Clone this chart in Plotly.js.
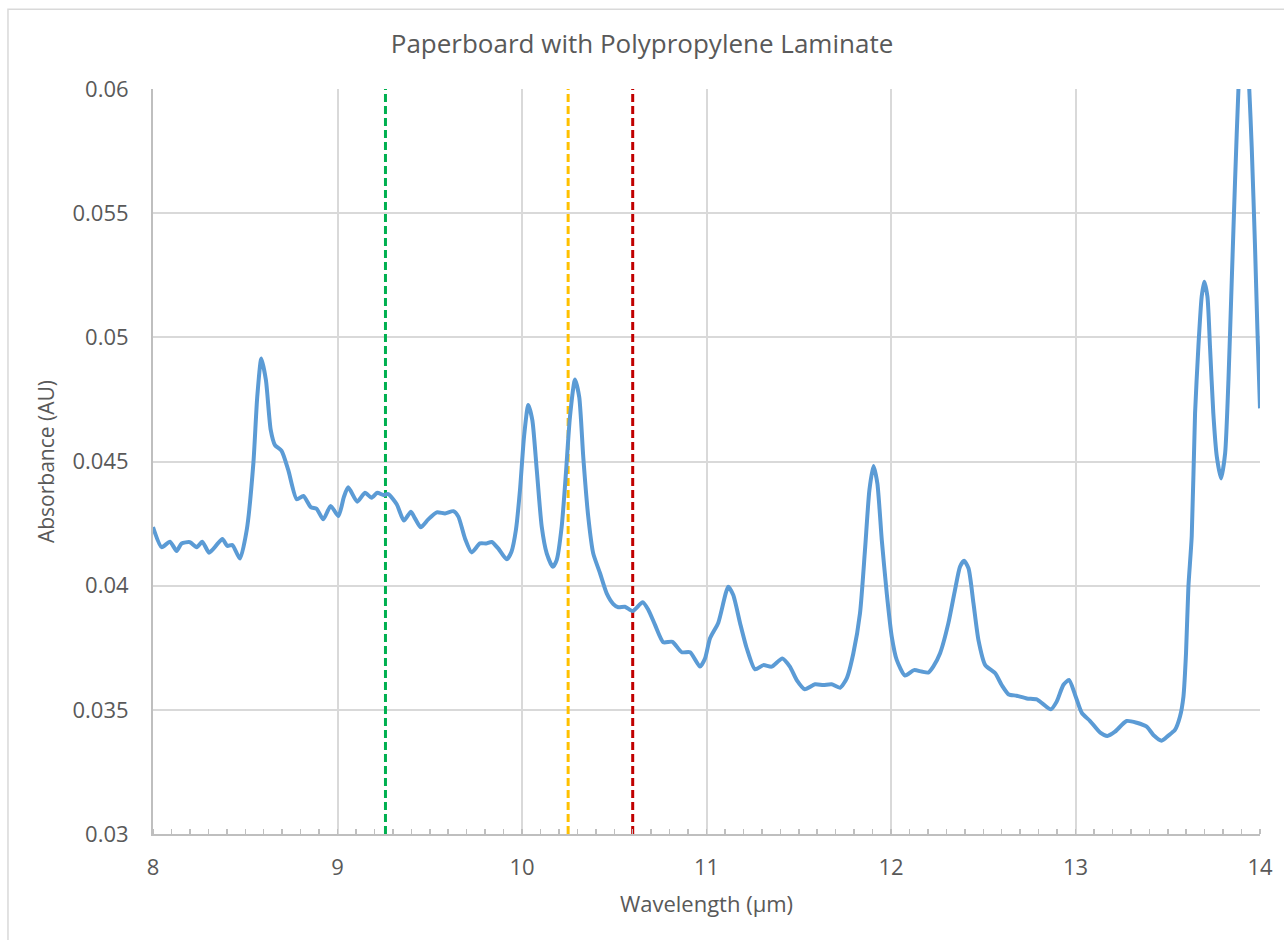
<!DOCTYPE html>
<html>
<head>
<meta charset="utf-8">
<script src="https://cdn.plot.ly/plotly-3.0.1.min.js"></script>
<style>
  html, body { margin: 0; padding: 0; background: #fff; }
  #chart { width: 1284px; height: 940px; }
</style>
</head>
<body>
<div id="chart"></div>
<script>
// Wavelength (µm)
const wavelength = [
  8.000, 8.047, 8.092, 8.128, 8.155, 8.200, 8.237, 8.267, 8.304, 8.345,
  8.376, 8.403, 8.430, 8.471, 8.508, 8.544, 8.565, 8.587, 8.612, 8.638,
  8.661, 8.697, 8.733, 8.779, 8.815, 8.855, 8.887, 8.923, 8.963, 9.005,
  9.035, 9.058, 9.107, 9.149, 9.185, 9.216, 9.248, 9.275, 9.321, 9.360,
  9.398, 9.420, 9.451, 9.492, 9.538, 9.583, 9.628, 9.655, 9.691, 9.727,
  9.772, 9.805, 9.836, 9.871, 9.917, 9.943, 9.967, 9.989, 10.011, 10.034,
  10.056, 10.080, 10.107, 10.134, 10.167, 10.188, 10.215, 10.238, 10.260, 10.287,
  10.310, 10.332, 10.359, 10.386, 10.423, 10.459, 10.495, 10.522, 10.558, 10.600,
  10.654, 10.685, 10.721, 10.766, 10.815, 10.866, 10.911, 10.965, 10.992, 11.019,
  11.064, 11.118, 11.145, 11.182, 11.218, 11.263, 11.308, 11.353, 11.411, 11.452,
  11.489, 11.533, 11.588, 11.633, 11.678, 11.724, 11.760, 11.796, 11.832, 11.859,
  11.883, 11.905, 11.926, 11.950, 11.977, 12.004, 12.031, 12.076, 12.125, 12.166,
  12.202, 12.229, 12.266, 12.311, 12.347, 12.374, 12.396, 12.420, 12.447, 12.474,
  12.511, 12.565, 12.600, 12.638, 12.681, 12.736, 12.790, 12.825, 12.866, 12.898,
  12.934, 12.965, 12.998, 13.034, 13.079, 13.134, 13.173, 13.214, 13.277, 13.332,
  13.386, 13.422, 13.467, 13.503, 13.539, 13.566, 13.585, 13.599, 13.612, 13.630,
  13.648, 13.666, 13.684, 13.698, 13.715, 13.729, 13.747, 13.766, 13.789, 13.811,
  13.829, 13.847, 13.865, 13.883, 13.912, 13.942, 13.955, 13.973, 13.986, 14.000
];
// Absorbance (AU)
const absorbance = [
  0.04236, 0.04155, 0.04177, 0.04140, 0.04170, 0.04175, 0.04155, 0.04177, 0.04133, 0.04164,
  0.04188, 0.04160, 0.04164, 0.04109, 0.04224, 0.04493, 0.04760, 0.04915, 0.04828, 0.04627,
  0.04566, 0.04543, 0.04466, 0.04348, 0.04361, 0.04316, 0.04309, 0.04267, 0.04321, 0.04280,
  0.04358, 0.04396, 0.04338, 0.04374, 0.04354, 0.04374, 0.04365, 0.04369, 0.04328, 0.04262,
  0.04298, 0.04271, 0.04235, 0.04267, 0.04295, 0.04291, 0.04300, 0.04278, 0.04190, 0.04134,
  0.04170, 0.04170, 0.04176, 0.04150, 0.04106, 0.04137, 0.04224, 0.04385, 0.04600, 0.04728,
  0.04667, 0.04466, 0.04237, 0.04130, 0.04076, 0.04103, 0.04237, 0.04452, 0.04680, 0.04830,
  0.04760, 0.04519, 0.04278, 0.04130, 0.04050, 0.03969, 0.03926, 0.03913, 0.03915, 0.03898,
  0.03933, 0.03902, 0.03842, 0.03772, 0.03774, 0.03732, 0.03732, 0.03674, 0.03707, 0.03788,
  0.03851, 0.03996, 0.03962, 0.03849, 0.03748, 0.03663, 0.03680, 0.03674, 0.03707, 0.03674,
  0.03620, 0.03583, 0.03603, 0.03600, 0.03603, 0.03589, 0.03627, 0.03728, 0.03889, 0.04144,
  0.04385, 0.04482, 0.04412, 0.04184, 0.03969, 0.03795, 0.03701, 0.03638, 0.03660, 0.03654,
  0.03650, 0.03674, 0.03728, 0.03849, 0.03983, 0.04076, 0.04100, 0.04070, 0.03929, 0.03781,
  0.03680, 0.03647, 0.03600, 0.03562, 0.03557, 0.03546, 0.03542, 0.03523, 0.03502, 0.03533,
  0.03600, 0.03620, 0.03560, 0.03488, 0.03455, 0.03408, 0.03395, 0.03412, 0.03455, 0.03448,
  0.03432, 0.03399, 0.03376, 0.03396, 0.03419, 0.03472, 0.03553, 0.03728, 0.03996, 0.04200,
  0.04694, 0.04962, 0.05164, 0.05224, 0.05164, 0.04962, 0.04694, 0.04519, 0.04432, 0.04533,
  0.04828, 0.05231, 0.05634, 0.05996, 0.06400, 0.05996, 0.05768, 0.05365, 0.05030, 0.04714
];
// Reference wavelengths (dashed vertical markers)
const markerWavelengths = [9.26, 10.25, 10.6];
const markerColors = ['#00B050', '#FFC000', '#C00000'];

const yTickVals = [0.03, 0.035, 0.04, 0.045, 0.05, 0.055, 0.06];
const yTickText = ['0.03', '0.035', '0.04', '0.045', '0.05', '0.055', '0.06'];
const xTickVals = [8, 9, 10, 11, 12, 13, 14];
const xTickText = ['8', '9', '10', '11', '12', '13', '14'];

const font = 'Open Sans, Lato, sans-serif';
const textColor = '#595959';

const traces = markerWavelengths.map((w, i) => ({
  x: [w, w],
  y: [0.03, 0.06],
  mode: 'lines',
  line: { color: markerColors[i], width: 3, dash: '8px,4px' },
  hoverinfo: 'skip',
  showlegend: false
}));
traces.push({
  x: wavelength,
  y: absorbance,
  mode: 'lines',
  line: { color: '#5B9BD5', width: 4, shape: 'spline', smoothing: 0.6 },
  showlegend: false
});

const layout = {
  width: 1284,
  height: 940,
  margin: { l: 153, r: 24, t: 89, b: 106 },
  paper_bgcolor: '#ffffff',
  plot_bgcolor: '#ffffff',
  title: {
    text: 'Paperboard with Polypropylene Laminate',
    font: { family: font, size: 26, color: textColor },
    x: 0.5, xanchor: 'center',
    y: 0.953, yanchor: 'middle'
  },
  xaxis: {
    range: [8, 14],
    tickvals: xTickVals,
    ticktext: xTickText,
    ticks: '',
    showgrid: true,
    gridcolor: '#D9D9D9',
    gridwidth: 2,
    showline: true,
    linecolor: '#BFBFBF',
    linewidth: 2,
    zeroline: false,
    tickfont: { family: font, size: 22, color: textColor },
    ticklabelstandoff: 13,
    minor: { dtick: 0.1, tick0: 8, ticks: 'inside', ticklen: 5, tickcolor: '#BFBFBF', tickwidth: 1.5, showgrid: false },
    title: { text: 'Wavelength (µm)', font: { family: font, size: 22, color: textColor }, standoff: 16 }
  },
  yaxis: {
    range: [0.03, 0.06],
    tickvals: yTickVals,
    ticktext: yTickText,
    ticks: '',
    showgrid: true,
    gridcolor: '#D9D9D9',
    gridwidth: 2,
    showline: true,
    linecolor: '#BFBFBF',
    linewidth: 2,
    zeroline: false,
    tickfont: { family: font, size: 22, color: textColor },
    ticklabelstandoff: 18,
    title: { text: 'Absorbance (AU)', font: { family: font, size: 21, color: textColor }, standoff: 12 }
  },
  shapes: [{
    type: 'rect', xref: 'paper', yref: 'paper',
    x0: -0.131, x1: 1.1, y0: -0.3, y1: 1.107,
    line: { color: '#D9D9D9', width: 1.5 },
    fillcolor: 'rgba(0,0,0,0)',
    layer: 'below'
  }]
};

Plotly.newPlot('chart', traces, layout, { displayModeBar: false, staticPlot: true });
</script>
</body>
</html>
